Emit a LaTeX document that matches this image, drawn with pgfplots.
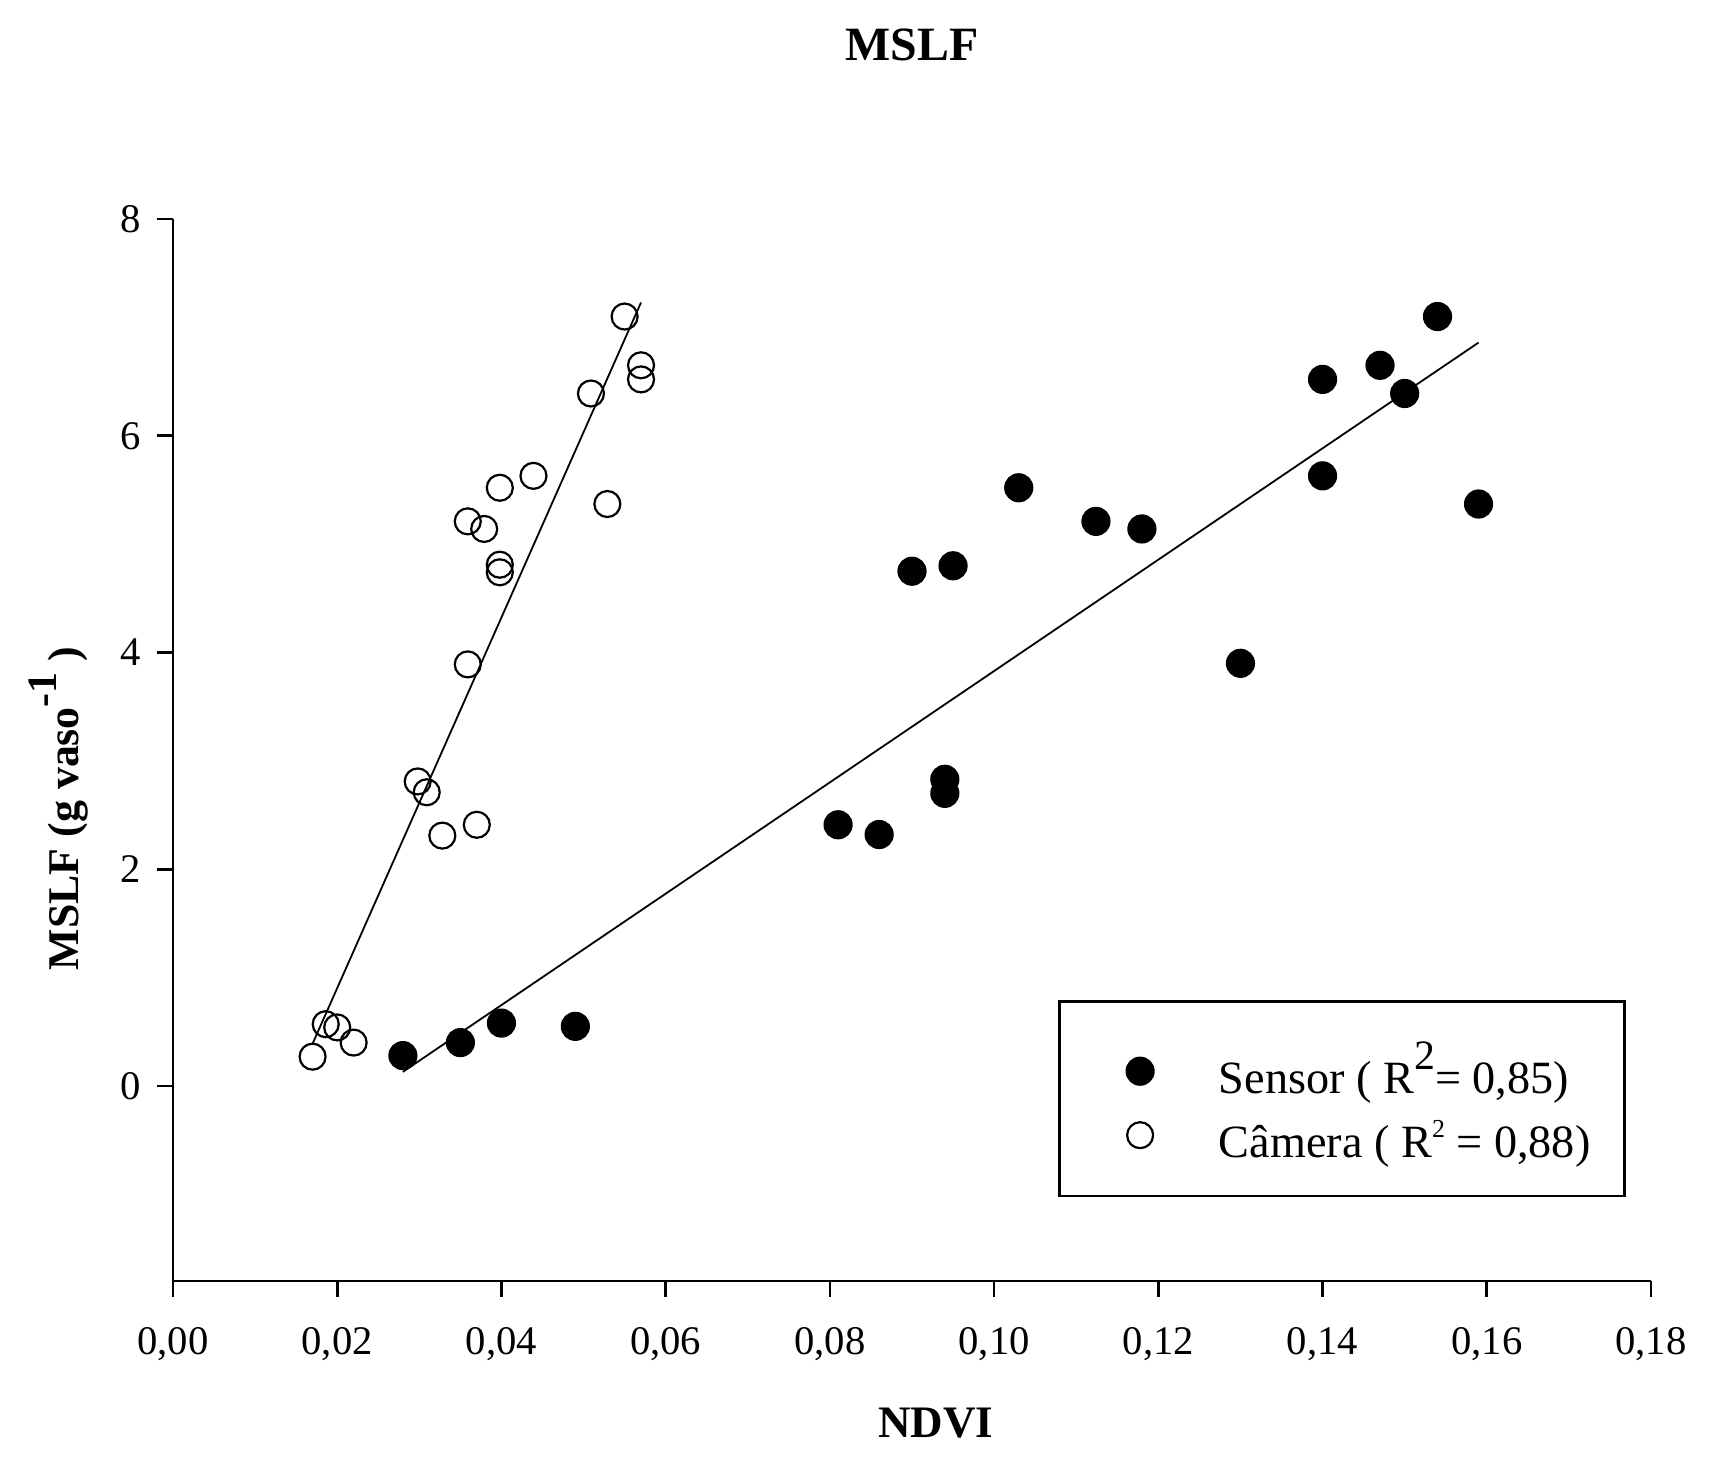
\documentclass[border=0pt]{standalone}
\usepackage{pgfplots}
\pgfplotsset{compat=1.18}
\usepackage{fontspec}
\setmainfont{Liberation Serif}
\usetikzlibrary{calc}

\begin{document}
\begin{tikzpicture}
\useasboundingbox (-43.25bp,-44.5bp) rectangle (390.75bp,320.25bp);
\begin{axis}[
  at={(0,0)}, anchor=south west,
  scale only axis,
  width=369.5bp, height=265.5bp,
  xmin=0, xmax=0.18, ymin=-1.8, ymax=8,
  axis x line*=bottom, axis y line*=left,
  axis line style={-, line width=0.67bp},
  tick style={line width=0.65bp, black},
  tick align=outside,
  major tick length=3.9bp,
  xtick={0,0.02,0.04,0.06,0.08,0.10,0.12,0.14,0.16,0.18},
  ytick={0,2,4,6,8},
  minor tick num=0,
  /pgf/number format/assume math mode=true,
  xticklabel style={/pgf/number format/.cd, fixed, fixed zerofill, precision=2, use comma, /tikz/.cd, anchor=north, inner sep=0pt, font=\fontsize{10.2}{12}\selectfont},
  yticklabel style={anchor=east, inner sep=0pt, font=\fontsize{10.2}{12}\selectfont},
  xticklabel shift=7.5bp,
  yticklabel shift=4bp,
  title={MSLF},
  title style={at={(axis description cs:0.5,1)}, anchor=base, yshift=33.6bp, font=\bfseries\fontsize{12}{14}\selectfont},
  xlabel={NDVI},
  xlabel style={at={($(axis description cs:0.5,0)+(6bp,-39bp)$)}, anchor=base, font=\bfseries\fontsize{11.3}{13}\selectfont},
  ylabel={MSLF (g vaso\raisebox{5.5bp}{\fontsize{10.5}{11}\selectfont -1} )},
  ylabel style={at={($(axis description cs:0,0.445)+(-23.5bp,0)$)}, anchor=base, font=\bfseries\fontsize{11}{13}\selectfont},
  legend style={at={(axis description cs:0.599,0.2646)}, anchor=north west,
    draw=black, line width=0.7bp, fill=white,
    inner xsep=8.5bp, inner ysep=8.5bp,
    column sep=7.3bp, row sep=0.35bp,
    nodes={inner sep=0pt, text height=14.45bp, text depth=1.2bp},
    cells={anchor=base west},
    font=\fontsize{11.6}{14}\selectfont},
  legend image code/.code={
    \path[draw=none, fill=none] (0bp,0bp) rectangle (24bp,6bp);
    \draw[mark repeat=2,mark phase=2] plot coordinates {(0bp,5.5bp) (11.6bp,5.5bp) (23.2bp,5.5bp)};
  },
]
\addplot[only marks, mark=*, mark size=3.45bp, mark options={fill=black, draw=black, line width=0.4bp}] table {
x y
0.028 0.28
0.035 0.40
0.040 0.58
0.049 0.55
0.081 2.41
0.086 2.32
0.094 2.83
0.094 2.70
0.090 4.75
0.095 4.80
0.103 5.52
0.1124 5.21
0.118 5.14
0.130 3.90
0.140 6.52
0.140 5.63
0.147 6.65
0.150 6.39
0.154 7.10
0.159 5.37
};
\addlegendentry{Sensor ( R\raisebox{6bp}{\fontsize{10.5}{11}\selectfont 2}= 0,85)}
\addplot[only marks, mark=o, mark size=3.25bp, mark options={draw=black, fill=white, line width=0.55bp}] table {
x y
0.0170 0.27
0.0186 0.57
0.0200 0.54
0.0220 0.40
0.0298 2.81
0.0309 2.71
0.0328 2.31
0.0370 2.41
0.0359 3.89
0.0359 5.21
0.0379 5.14
0.0398 5.52
0.0398 4.81
0.0398 4.74
0.0439 5.63
0.0509 6.39
0.0529 5.37
0.0550 7.10
0.0570 6.65
0.0570 6.52
};
\addlegendentry{Câmera ( R\raisebox{5bp}{\fontsize{6.5}{7}\selectfont 2} = 0,88)}
\addplot[black, line width=0.45bp, forget plot] coordinates {(0.028,0.13) (0.159,6.86)};
\addplot[black, line width=0.45bp, forget plot] coordinates {(0.017,0.39) (0.057,7.23)};
\end{axis}
\end{tikzpicture}
\end{document}
